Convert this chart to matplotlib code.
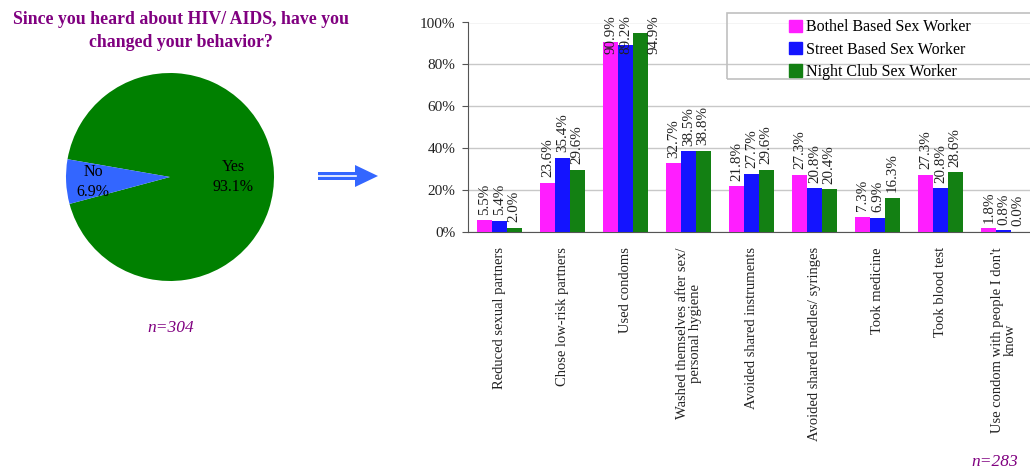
import numpy as np
import matplotlib.pyplot as plt
from matplotlib.patches import Rectangle, Polygon
from matplotlib.lines import Line2D
from matplotlib.ticker import FuncFormatter

plt.rcParams['font.family'] = ['Liberation Serif', 'DejaVu Serif']

# Pie: changed behaviour since hearing about HIV/AIDS
pie_labels = ['Yes', 'No']
pie_values = [93.1, 6.9]
pie_colors = ['#008000', '#3366ff']

# Bars: behaviour change by type of sex worker
categories = [
    'Reduced sexual partners',
    'Chose low-risk partners',
    'Used condoms',
    'Washed themselves after sex/\npersonal hygiene',
    'Avoided shared instruments',
    'Avoided shared needles/ syringes',
    'Took medicine',
    'Took blood test',
    "Use condom with people I don't\nknow",
]
series_names = ['Bothel Based Sex Worker', 'Street Based Sex Worker', 'Night Club Sex Worker']
bothel = [5.5, 23.6, 90.9, 32.7, 21.8, 27.3, 7.3, 27.3, 1.8]
street = [5.4, 35.4, 89.2, 38.5, 27.7, 20.8, 6.9, 20.8, 0.8]
night = [2.0, 29.6, 94.9, 38.8, 29.6, 20.4, 16.3, 28.6, 0.0]
bar_colors = ['#ff1eff', '#1414ff', '#138013']

W, H = 1030, 472
fig = plt.figure(figsize=(W / 100, H / 100), dpi=100)
purple = '#800080'

# ---- pie ----
cx, cy, r = 170, 177, 104
ax_pie = fig.add_axes([(cx - r) / W, (H - cy - r) / H, 2 * r / W, 2 * r / H])
ax_pie.pie(pie_values, colors=pie_colors, startangle=195, counterclock=True,
           radius=1, wedgeprops=dict(linewidth=0))
ax_pie.set_xlim(-1, 1)
ax_pie.set_ylim(-1, 1)
ax_pie.set_aspect('equal')
ax_pie.axis('off')
ax_pie.text(0.61, 0.0, f'{pie_labels[0]}\n{pie_values[0]:.1f}%', ha='center', va='center',
            fontsize=11.5, linespacing=1.3)
ax_pie.text(-0.74, -0.05, f'{pie_labels[1]}\n{pie_values[1]:.1f}%', ha='center', va='center',
            fontsize=11.5, linespacing=1.3)

fig.text(181 / W, 1 - 31 / H, 'Since you heard about HIV/ AIDS, have you\nchanged your behavior?',
         ha='center', va='center', fontsize=12.8, fontweight='bold', color=purple,
         linespacing=1.4)
fig.text(171 / W, 1 - 328 / H, 'n=304', ha='center', va='center', fontsize=12.5,
         style='italic', color=purple)

# ---- arrow between the charts ----
arrow_col = '#3366ff'
fig.patches.append(Polygon([(318 / W, 1 - 172 / H), (355 / W, 1 - 172 / H),
                            (355 / W, 1 - 165 / H), (378 / W, 1 - 176 / H),
                            (355 / W, 1 - 187 / H), (355 / W, 1 - 180 / H),
                            (318 / W, 1 - 180 / H)],
                           closed=True, transform=fig.transFigure, facecolor=arrow_col,
                           edgecolor='none'))
fig.lines.append(Line2D([318 / W, 356 / W], [1 - 175.5 / H, 1 - 175.5 / H],
                        transform=fig.transFigure, color='white', linewidth=1.2))

# ---- grouped bars ----
ax = fig.add_axes([468 / W, (H - 232) / H, 567 / W, 209.5 / H])
x = np.arange(len(categories))
bw = 0.233
all_series = [bothel, street, night]
for i, (vals, name, col) in enumerate(zip(all_series, series_names, bar_colors)):
    pos = x + (i - 1) * bw
    ax.bar(pos, vals, width=bw, color=col, label=name, zorder=3)
    for p, v in zip(pos, vals):
        if v > 80:
            dx = 0.22 if i == 2 else 0
            ax.text(p + dx, 103.5, f'{v:.1f}%', rotation=90, ha='center', va='top',
                    fontsize=10.8, color='#222222', zorder=4, clip_on=False)
        else:
            ax.annotate(f'{v:.1f}%', (p, v), xytext=(0, 4), textcoords='offset points',
                        rotation=90, ha='center', va='bottom', fontsize=10.8,
                        color='#222222', zorder=4)

ax.set_xlim(-0.5, len(categories) - 0.5)
ax.set_ylim(0, 100)
ax.set_yticks(np.arange(0, 101, 20))
ax.yaxis.set_major_formatter(FuncFormatter(lambda v, _: f'{v:.0f}%'))
ax.set_xticks(x)
ax.set_xticklabels(categories, rotation=90, va='top', ha='center', fontsize=10.5,
                   linespacing=1.0)
ax.tick_params(axis='x', length=0, pad=11, colors='#222222')
ax.tick_params(axis='y', length=4, direction='out', labelsize=11, colors='#555555',
               labelcolor='#222222', pad=5)
ax.grid(axis='y', color='#c8c8c8', linewidth=1, zorder=0)
ax.set_axisbelow(True)
for s in ['top', 'right']:
    ax.spines[s].set_visible(False)
ax.spines['left'].set_color('#555555')
ax.spines['bottom'].set_color('#555555')

# legend with its own frame
fig.patches.append(Rectangle((727 / W, 1 - 79 / H), 310 / W, 66 / H, transform=fig.transFigure,
                             facecolor='none', edgecolor='#c0c0c0', linewidth=1.2))
handles = [Rectangle((0, 0), 1, 1, color=c) for c in bar_colors]
fig.legend(handles, series_names, loc='upper left', bbox_to_anchor=(778 / W, 1 - 8 / H),
           frameon=False, fontsize=11.5, handlelength=0.8, handleheight=0.8,
           handletextpad=0.25, labelspacing=0.4, borderpad=0.2)

fig.text(995 / W, 1 - 462 / H, 'n=283', ha='center', va='center', fontsize=12.5,
         style='italic', color=purple)

fig.savefig('out.png', dpi=100)
